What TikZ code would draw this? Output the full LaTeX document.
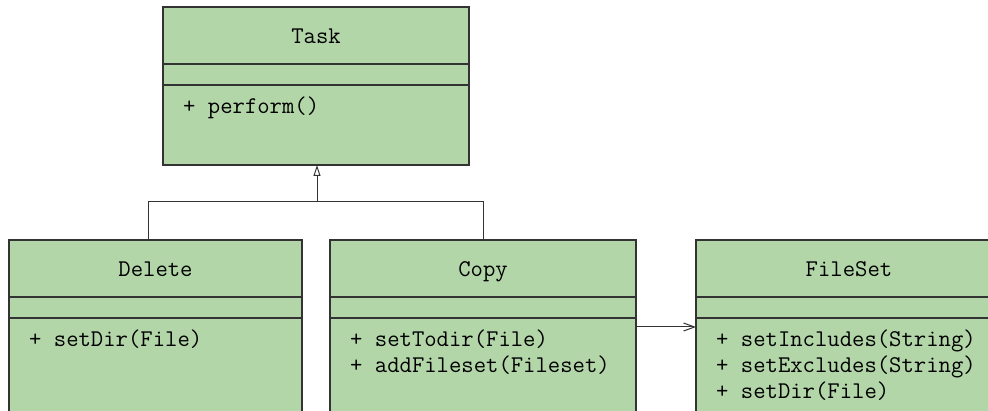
\documentclass[tikz,border=0pt]{standalone}
\usepackage{tikz}
\usetikzlibrary{arrows.meta, positioning}
\definecolor{cfill}{HTML}{B3D6A9}
\definecolor{cline}{HTML}{333333}
\newcommand\umlfont{\ttfamily\fontsize{24}{26}\selectfont}

\begin{document}
\begin{tikzpicture}[x=1pt, y=-1pt,
  cls/.style={draw=cline, fill=cfill, line width=1.1pt, inner sep=0pt,
              outer sep=0pt, minimum width=#1, anchor=north west},
  hdr/.style={cls=#1, minimum height=57pt, font=\umlfont,
              text height=23pt, text depth=6pt},
  att/.style={cls=#1, minimum height=21pt},
  mth/.style={anchor=north west, inner sep=0pt, align=left, font=\umlfont},
  inh/.style={-{Triangle[open, length=11pt, width=7pt]}, draw=cline, line width=1pt},
  assoc/.style={-{Straight Barb[length=11pt, width=8pt]}, draw=cline, line width=1pt}
]
\useasboundingbox (0,0) rectangle (988,411);
\clip (0,0) rectangle (988,411);

%% ── Task
\node[hdr=306pt] (task-hdr) at (163,7) {Task};
\node[att=306pt, below=0pt of task-hdr] (task-att) {};
\node[cls=306pt, minimum height=80pt, below=0pt of task-att] (task-ops) {};
\node[mth] (task-m) at ([xshift=20pt, yshift=-12pt]task-ops.north west) {+ perform()};

%% ── Delete
\node[hdr=293pt] (del-hdr) at (9,240) {Delete};
\node[att=293pt, below=0pt of del-hdr] (del-att) {};
\node[cls=293pt, minimum height=130pt, below=0pt of del-att] (del-ops) {};
\node[mth] (del-m) at ([xshift=20pt, yshift=-12pt]del-ops.north west) {+ setDir(File)};

%% ── Copy
\node[hdr=306pt] (copy-hdr) at (330,240) {Copy};
\node[att=306pt, below=0pt of copy-hdr] (copy-att) {};
\node[cls=306pt, minimum height=130pt, below=0pt of copy-att] (copy-ops) {};
\node[mth] (copy-m) at ([xshift=20pt, yshift=-12pt]copy-ops.north west)
  {+ setTodir(File)\\+ addFileset(Fileset)};

%% ── FileSet
\node[hdr=306pt] (fs-hdr) at (696,240) {FileSet};
\node[att=306pt, below=0pt of fs-hdr] (fs-att) {};
\node[cls=306pt, minimum height=130pt, below=0pt of fs-att] (fs-ops) {};
\node[mth] (fs-m) at ([xshift=20pt, yshift=-12pt]fs-ops.north west)
  {+ setIncludes(String)\\+ setExcludes(String)\\+ setDir(File)};

%% ── Generalisation
\coordinate (join) at (317,202);
\coordinate (del-top) at (148,240);
\draw[draw=cline, line width=1pt] (del-top) |- (copy-hdr.north |- join) -- (copy-hdr.north);
\draw[inh] (join) -- (task-ops.south -| join);

%% ── Association
\draw[assoc] ([yshift=-9pt]copy-ops.north east) -- ([yshift=-9pt]fs-ops.north west);

\end{tikzpicture}
\end{document}
